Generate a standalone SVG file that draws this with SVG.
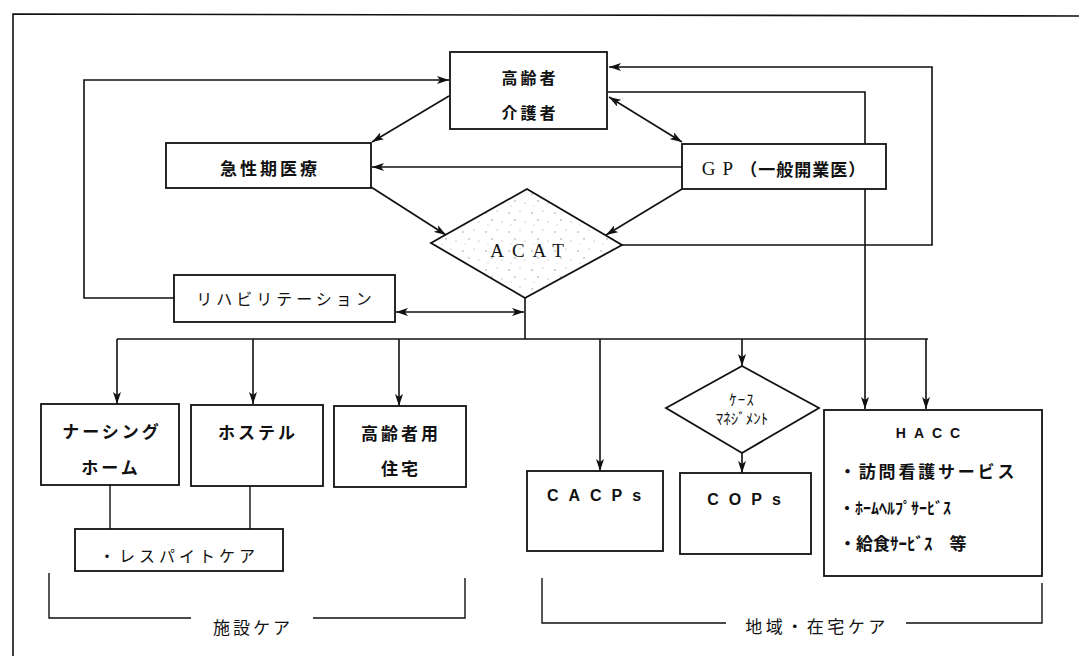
<svg xmlns="http://www.w3.org/2000/svg" width="1079" height="656" viewBox="0 0 1079 656">
<style>
.ln{fill:none;stroke:#111;stroke-width:1.6}
.bx{fill:#fff;stroke:#111;stroke-width:1.8}
.thin{fill:none;stroke:#111;stroke-width:1.4}
.t{font-family:"Noto Sans CJK JP","Noto Sans",sans-serif;fill:#111;text-anchor:middle;dominant-baseline:central}
.st{text-anchor:start}
.b{font-weight:bold}
.s{font-family:"Liberation Serif",serif;fill:#111;text-anchor:middle;dominant-baseline:central}
.a{font-family:"Liberation Sans",sans-serif;fill:#111;text-anchor:middle;dominant-baseline:central}
</style>
<defs>
<marker id="ah" viewBox="0 0 12 8" refX="12" refY="4" markerWidth="12" markerHeight="8" markerUnits="userSpaceOnUse" orient="auto-start-reverse">
<path d="M0,0 L12,4 L0,8 L3,4 Z" fill="#111"/>
</marker>
<pattern id="dots" width="23" height="19" patternUnits="userSpaceOnUse">
<rect width="23" height="19" fill="#fff"/>
<circle cx="3" cy="4" r="0.7" fill="#888"/>
<circle cx="14" cy="2" r="0.6" fill="#999"/>
<circle cx="9" cy="11" r="0.7" fill="#888"/>
<circle cx="19" cy="13" r="0.6" fill="#999"/>
<circle cx="5" cy="16" r="0.5" fill="#aaa"/>
</pattern>
</defs>

<path class="ln" d="M13,656 L13,14 L1079,16"/>

<g id="connectors">
<path class="ln" d="M174,298 H84 V80 H449" marker-end="url(#ah)"/>
<path class="ln" d="M449,96 L372,142" marker-end="url(#ah)"/>
<path class="ln" d="M682,167 H372" marker-end="url(#ah)"/>
<path class="ln" d="M609,97 L682,142" marker-start="url(#ah)" marker-end="url(#ah)"/>
<path class="ln" d="M371,187 L446,235" marker-end="url(#ah)"/>
<path class="ln" d="M682,189 L606,235" marker-end="url(#ah)"/>
<path class="ln" d="M622,245 H932 V67 H609" marker-end="url(#ah)"/>
<path class="ln" d="M608,92 H865 V409" marker-end="url(#ah)"/>
<path class="ln" d="M525,298 V339"/>
<path class="ln" d="M396,312 H524" marker-start="url(#ah)" marker-end="url(#ah)"/>
<path class="ln" d="M117,339 H928"/>
<path class="ln" d="M117,339 V404" marker-end="url(#ah)"/>
<path class="ln" d="M253,339 V404" marker-end="url(#ah)"/>
<path class="ln" d="M399,339 V406" marker-end="url(#ah)"/>
<path class="ln" d="M600,339 V471" marker-end="url(#ah)"/>
<path class="ln" d="M742,339 V366" marker-end="url(#ah)"/>
<path class="ln" d="M926,339 V409" marker-end="url(#ah)"/>
<path class="ln" d="M742,453 V473" marker-end="url(#ah)"/>
<path class="thin" d="M110,485 V529"/>
<path class="thin" d="M250,486 V529"/>
<path class="thin" d="M49,573 V618 H191"/>
<path class="thin" d="M313,618 H465 V578"/>
<path class="thin" d="M542,578 V623 H726"/>
<path class="thin" d="M906,623 H1042 V583"/>
</g>

<g id="elderly">
<rect class="bx" x="450" y="52" width="157" height="77"/>
<text class="t b" x="530" y="77" font-size="16" letter-spacing="3">高齢者</text>
<text class="t b" x="530" y="112" font-size="16" letter-spacing="3">介護者</text>
</g>

<g id="acute">
<rect class="bx" x="166" y="143" width="205" height="45"/>
<text class="t b" x="270" y="167" font-size="17" letter-spacing="3">急性期医療</text>
</g>

<g id="gp">
<rect class="bx" x="682" y="144" width="204" height="45"/>
<text class="t" x="784" y="168" font-size="17"><tspan font-family="Liberation Serif" font-size="19" letter-spacing="7">GP</tspan><tspan class="b" letter-spacing="1">（一般開業医）</tspan></text>
</g>

<g id="acat">
<polygon points="527,189 622,245 525,298 431,243" fill="url(#dots)" stroke="#111" stroke-width="1.8"/>
<text class="s" x="531" y="250" font-size="19" letter-spacing="8">ACAT</text>
</g>

<g id="rehab">
<rect class="bx" x="174" y="275" width="221" height="47"/>
<text class="t" x="286" y="298" font-size="16" letter-spacing="4">リハビリテーション</text>
</g>

<g id="nursing">
<rect class="bx" x="41" y="404" width="138" height="81"/>
<text class="t b" x="112" y="430" font-size="17" letter-spacing="3">ナーシング</text>
<text class="t b" x="111" y="466" font-size="17" letter-spacing="3">ホーム</text>
</g>

<g id="hostel">
<rect class="bx" x="191" y="405" width="132" height="81"/>
<text class="t b" x="258" y="431" font-size="17" letter-spacing="3">ホステル</text>
</g>

<g id="housing">
<rect class="bx" x="334" y="406" width="132" height="81"/>
<text class="t b" x="401" y="432" font-size="17" letter-spacing="3">高齢者用</text>
<text class="t b" x="401" y="467" font-size="17" letter-spacing="3">住宅</text>
</g>

<g id="respite">
<rect class="bx" x="75" y="529" width="208" height="42"/>
<text class="t" x="179" y="555" font-size="16" letter-spacing="4">・レスパイトケア</text>
</g>

<g id="label-facility">
<text class="t" x="253" y="626" font-size="17" letter-spacing="3">施設ケア</text>
</g>

<g id="cacps">
<rect class="bx" x="527" y="471" width="136" height="80"/>
<text class="a b" x="599" y="495" font-size="16" letter-spacing="10">CACPs</text>
</g>

<g id="casemgmt">
<polygon class="bx" points="742,366 819,408 742,453 666,408"/>
<text class="t" x="742" y="398" font-size="15" letter-spacing="1">ｹｰｽ</text>
<text class="t" x="742" y="417" font-size="15">ﾏﾈｼﾞﾒﾝﾄ</text>
</g>

<g id="cops">
<rect class="bx" x="680" y="473" width="131" height="81"/>
<text class="a b" x="749" y="499" font-size="16" letter-spacing="10">COPs</text>
</g>

<g id="hacc">
<rect class="bx" x="824" y="410" width="218" height="166"/>
<text class="a b" x="932" y="433" font-size="14" letter-spacing="8">HACC</text>
<text class="t b st" x="839" y="470" font-size="17" letter-spacing="2.8">・訪問看護サービス</text>
<text class="t b st" x="839" y="507" font-size="16">・ﾎｰﾑﾍﾙﾌﾟｻｰﾋﾞｽ</text>
<text class="t b st" x="839" y="542" font-size="17">・給食ｻｰﾋﾞｽ　等</text>
</g>

<g id="label-community">
<text class="t" x="817" y="625" font-size="17" letter-spacing="3.5">地域・在宅ケア</text>
</g>
</svg>
